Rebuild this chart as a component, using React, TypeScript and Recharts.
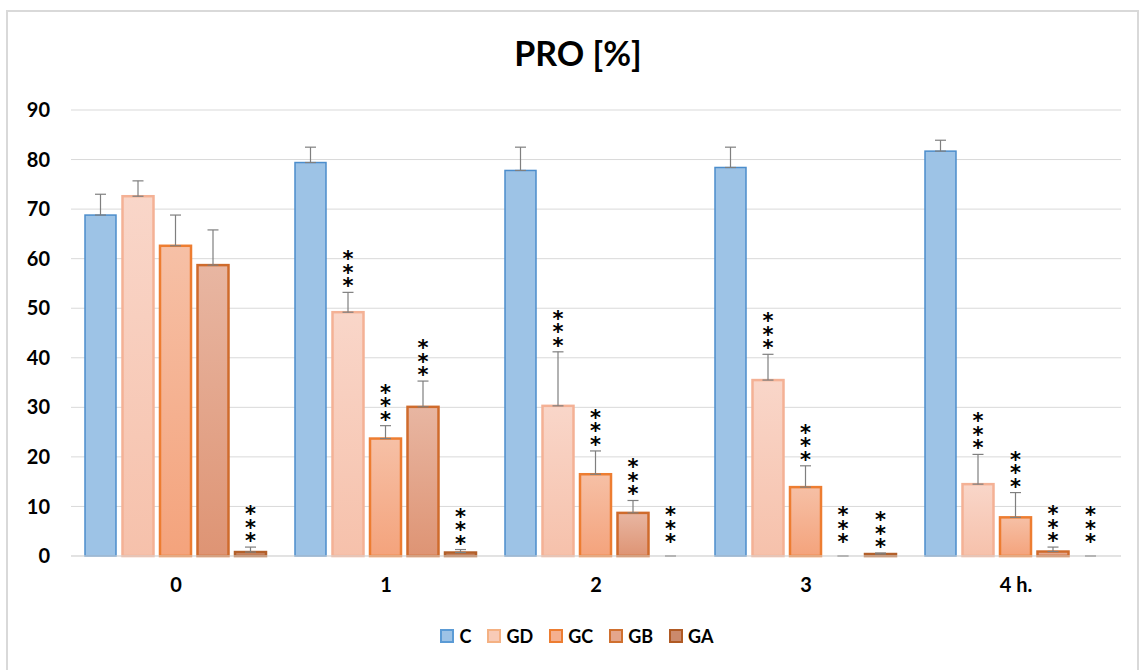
import React from 'react';
import { BarChart, Bar, XAxis, YAxis, CartesianGrid, ErrorBar } from 'recharts';

const categories = ['0', '1', '2', '3', '4 h.'];
const cVals = [68.8, 79.4, 77.8, 78.4, 81.7];
const cErr = [4.2, 3.1, 4.7, 4.1, 2.2];
const gdVals = [72.6, 49.2, 30.3, 35.5, 14.5];
const gdErr = [3.1, 4.0, 10.9, 5.2, 6.0];
const gcVals = [62.6, 23.7, 16.5, 13.9, 7.8];
const gcErr = [6.2, 2.6, 4.7, 4.3, 5.0];
const gbVals = [58.7, 30.1, 8.7, 0, 0.9];
const gbErr = [7.1, 5.2, 2.5, 0, 0.9];
const gaVals = [0.8, 0.7, 0, 0.4, 0];
const gaErr = [1.0, 0.6, 0, 0.2, 0];
const cSig = [false, false, false, false, false];
const gdSig = [false, true, true, true, true];
const gcSig = [false, true, true, true, true];
const gbSig = [false, true, true, true, true];
const gaSig = [true, true, true, true, true];
const yTicks = [0, 10, 20, 30, 40, 50, 60, 70, 80, 90];

const data = categories.map((name, i) => ({
  name,
  C: cVals[i], cE: [0, cErr[i]],
  GD: gdVals[i], gdE: [0, gdErr[i]],
  GC: gcVals[i], gcE: [0, gcErr[i]],
  GB: gbVals[i], gbE: [0, gbErr[i]],
  GA: gaVals[i], gaE: [0, gaErr[i]],
}));

const FONT = 'Lato, "Open Sans", sans-serif';

const makeShape = (vals: number[], errs: number[], sig: boolean[]) => (props: any) => {
  let index = props.index;
  if (index == null && props.payload) index = categories.indexOf(props.payload.name);
  const { x, y, width, height, fill, stroke, strokeWidth } = props;
  const v = vals[index];
  const e = errs[index];
  const h = Math.abs(height || 0);
  const top = Math.min(y, y + (height || 0));
  const errTop = v > 0 && h > 0 ? top - (e * h) / v : top + h;
  const gap = v > 0 ? 4 : 12;
  const bottom = errTop - gap;
  const cx = x + width / 2;
  return (
    <g>
      {v > 0 ? (
        <rect x={x} y={top} width={width} height={h} fill={fill} stroke={stroke} strokeWidth={strokeWidth} />
      ) : null}
      {sig[index] ? (
        <text
          x={cx}
          y={bottom - 41}
          fontFamily='"DejaVu Sans", sans-serif'
          fontWeight="bold"
          fontSize={21}
          fill="#000"
          letterSpacing={-10.5}
          style={{ writingMode: 'vertical-rl', textOrientation: 'upright' } as any}
        >
          ***
        </text>
      ) : null}
    </g>
  );
};

const legendItems = [
  { name: 'C', fill: '#9DC3E6', stroke: '#5B9BD5' },
  { name: 'GD', fill: '#F8CBB7', stroke: '#F4B183' },
  { name: 'GC', fill: '#F5B08F', stroke: '#ED7D31' },
  { name: 'GB', fill: '#E4A68B', stroke: '#D0702F' },
  { name: 'GA', fill: '#CB8A6C', stroke: '#B05A24' },
];

export default function App() {
  return (
    <div style={{ position: 'absolute', left: 0, top: 0, width: 1141, height: 670, background: '#fff', overflow: 'hidden' }}>
      <div style={{ position: 'absolute', left: 6, top: 10, width: 1133, height: 670, border: '2px solid #D9D9D9', boxSizing: 'border-box' }} />
      <div style={{ position: 'absolute', left: 578, top: 33, transform: 'translateX(-50%)', fontFamily: FONT, fontWeight: 'bold', fontSize: 34, color: '#000', whiteSpace: 'nowrap', lineHeight: '40px' }}>
        PRO [%]
      </div>
      <div style={{ position: 'absolute', left: 0, top: 0 }}>
        <BarChart
          width={1141}
          height={670}
          data={data}
          margin={{ top: 110, right: 20, bottom: 84, left: 0 }}
          barCategoryGap={14}
          barGap={6.5}
        >
          <defs>
            <linearGradient id="gGD" x1="0" y1="0" x2="0" y2="1">
              <stop offset="0%" stopColor="#F9D6C9" />
              <stop offset="100%" stopColor="#F6C1AB" />
            </linearGradient>
            <linearGradient id="gGC" x1="0" y1="0" x2="0" y2="1">
              <stop offset="0%" stopColor="#F6C0A6" />
              <stop offset="100%" stopColor="#F4A37C" />
            </linearGradient>
            <linearGradient id="gGB" x1="0" y1="0" x2="0" y2="1">
              <stop offset="0%" stopColor="#E8B6A2" />
              <stop offset="100%" stopColor="#DE9474" />
            </linearGradient>
            <linearGradient id="gGA" x1="0" y1="0" x2="0" y2="1">
              <stop offset="0%" stopColor="#D09478" />
              <stop offset="100%" stopColor="#C47E5E" />
            </linearGradient>
          </defs>
          <CartesianGrid vertical={false} stroke="#D9D9D9" strokeWidth={1} />
          <XAxis
            dataKey="name"
            height={30}
            axisLine={{ stroke: '#D9D9D9', strokeWidth: 1 }}
            tickLine={false}
            tickMargin={16}
            tick={{ fill: '#000', fontFamily: FONT, fontWeight: 'bold', fontSize: 20 }}
          />
          <YAxis
            width={71}
            domain={[0, 90]}
            ticks={yTicks}
            axisLine={false}
            tickLine={false}
            tickMargin={15}
            interval={0}
            tick={{ fill: '#000', fontFamily: FONT, fontWeight: 'bold', fontSize: 20 }}
          />
          <Bar dataKey="C" fill="#9DC3E6" stroke="#4C8DCB" strokeWidth={1.5} minPointSize={1} shape={makeShape(cVals, cErr, cSig)} isAnimationActive={false}>
            <ErrorBar dataKey="cE" stroke="#7F7F7F" strokeWidth={1.2} width={5.5} direction="y" />
          </Bar>
          <Bar dataKey="GD" fill="url(#gGD)" stroke="#F4B195" strokeWidth={2.5} minPointSize={1} shape={makeShape(gdVals, gdErr, gdSig)} isAnimationActive={false}>
            <ErrorBar dataKey="gdE" stroke="#7F7F7F" strokeWidth={1.2} width={5.5} direction="y" />
          </Bar>
          <Bar dataKey="GC" fill="url(#gGC)" stroke="#ED7D31" strokeWidth={2.5} minPointSize={1} shape={makeShape(gcVals, gcErr, gcSig)} isAnimationActive={false}>
            <ErrorBar dataKey="gcE" stroke="#7F7F7F" strokeWidth={1.2} width={5.5} direction="y" />
          </Bar>
          <Bar dataKey="GB" fill="url(#gGB)" stroke="#CF6B2C" strokeWidth={2.5} minPointSize={1} shape={makeShape(gbVals, gbErr, gbSig)} isAnimationActive={false}>
            <ErrorBar dataKey="gbE" stroke="#7F7F7F" strokeWidth={1.2} width={5.5} direction="y" />
          </Bar>
          <Bar dataKey="GA" fill="url(#gGA)" stroke="#B3602A" strokeWidth={2.5} minPointSize={1} shape={makeShape(gaVals, gaErr, gaSig)} isAnimationActive={false}>
            <ErrorBar dataKey="gaE" stroke="#7F7F7F" strokeWidth={1.2} width={5.5} direction="y" />
          </Bar>
        </BarChart>
      </div>
      <div style={{ position: 'absolute', left: 0, top: 625, width: 1154, height: 22, display: 'flex', justifyContent: 'center', alignItems: 'center', fontFamily: FONT, fontWeight: 'bold', fontSize: 18, color: '#000' }}>
        {legendItems.map((it, i) => (
          <div key={it.name} style={{ display: 'flex', alignItems: 'center', marginRight: i < legendItems.length - 1 ? 16 : 0 }}>
            <div style={{ width: 14, height: 14, boxSizing: 'border-box', background: it.fill, border: `2px solid ${it.stroke}`, marginRight: 5 }} />
            <span>{it.name}</span>
          </div>
        ))}
      </div>
    </div>
  );
}
